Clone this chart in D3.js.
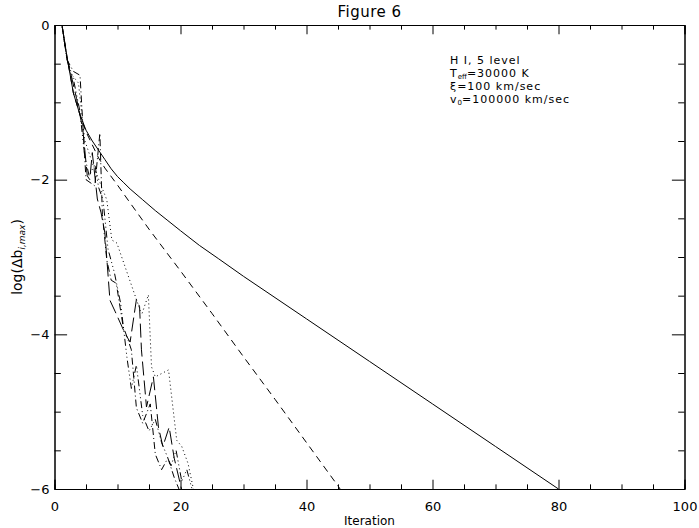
<!DOCTYPE html>
<html>
<head>
<meta charset="utf-8">
<script src="https://cdn.jsdelivr.net/npm/d3@7"></script>
<style>
  html, body { margin: 0; padding: 0; background: #fff; }
  svg { display: block; }
  text { font-family: "DejaVu Sans", "Liberation Sans", Arial, sans-serif; fill: #000; }
</style>
</head>
<body>
<svg id="chart" width="699" height="528"></svg>
<script>
// Convergence of the maximum relative change of level populations per iteration
const xMajorTicks = [0, 20, 40, 60, 80, 100];
const yMajorTicks = [0, -2, -4, -6];

// solid: plain lambda iteration
const solidIter = [1, 2, 3, 4, 5, 6, 7, 8, 9, 10, 11, 12, 14, 16, 18, 20, 23, 26, 30, 40, 50, 60, 70, 80];
const solidVal  = [0.1, -0.42, -0.88, -1.15, -1.36, -1.50, -1.62, -1.74, -1.86, -1.96, -2.04, -2.12, -2.26, -2.40, -2.53, -2.66, -2.85, -3.02, -3.25, -3.80, -4.35, -4.90, -5.45, -6.0];

// dashed
const dashedIter = [1, 2, 3, 4, 5, 6, 7, 8, 10, 12, 15, 20, 25, 30, 35, 40, 45, 46];
const dashedVal  = [0.1, -0.42, -0.88, -1.15, -1.38, -1.55, -1.72, -1.85, -2.07, -2.30, -2.64, -3.18, -3.73, -4.29, -4.84, -5.40, -5.96, -6.08];

// dotted
const dottedIter = [1, 2, 2.5, 3.8, 4.8, 6.2, 8.3, 9.1, 9.9, 13.6, 13.9, 14.9, 15.4, 16, 18.1, 19.4, 20.2, 21.2, 22.1];
const dottedVal  = [0.1, -0.45, -0.62, -0.75, -1.49, -1.83, -2.26, -2.78, -2.82, -3.69, -3.73, -3.49, -4.42, -4.55, -4.46, -5.37, -5.45, -5.67, -6.02];

// dash-dot
const dashDotIter = [1, 2, 3, 4.05, 5.0, 6.4, 7.2, 7.6, 8.3, 9.0, 9.8, 10.9, 11.5, 12.2, 13.0, 14.0, 15.2, 16.0, 17.0, 18.0, 19.0, 20.0];
const dashDotVal  = [0.1, -0.45, -0.6, -0.65, -2.0, -2.08, -1.40, -2.45, -3.04, -3.3, -3.34, -3.9, -4.03, -4.2, -4.95, -5.15, -4.9, -5.55, -5.75, -5.6, -5.85, -6.05];

// dash-dot-dot-dot
const dash3DotIter = [1, 2, 3, 4.0, 4.8, 5.5, 6.4, 7.0, 7.7, 8.5, 9.5, 10.5, 11.5, 12.2, 13.0, 14.0, 15.0, 16.0, 17.0, 18.5, 19.3, 20.2, 21.0, 22.0];
const dash3DotVal  = [0.1, -0.45, -0.7, -1.1, -1.7, -1.95, -1.8, -2.1, -2.26, -2.9, -3.2, -3.6, -4.3, -4.7, -4.4, -5.05, -5.25, -5.1, -5.4, -5.7, -5.5, -5.9, -5.75, -6.05];

// long dashes
const longDashIter = [1, 2, 2.5, 3.5, 4.5, 5.2, 5.6, 6.0, 6.8, 7.4, 8.0, 8.8, 9.6, 11.2, 12.0, 13.0, 13.5, 13.8, 14.6, 15.7, 16.5, 17.2, 18.2, 19.0, 20.3];
const longDashVal  = [0.1, -0.45, -0.6, -0.95, -1.35, -1.95, -2.0, -1.65, -2.25, -2.43, -2.69, -3.56, -3.7, -3.99, -4.1, -3.55, -3.64, -4.2, -4.94, -4.55, -5.2, -5.45, -5.2, -5.6, -6.05];

const series = [
  { iter: solidIter,    val: solidVal,    dash: null },
  { iter: dashedIter,   val: dashedVal,   dash: "7,5" },
  { iter: dottedIter,   val: dottedVal,   dash: "1,3" },
  { iter: dashDotIter,  val: dashDotVal,  dash: "7,3,1,3" },
  { iter: dash3DotIter, val: dash3DotVal, dash: "7,3,1,3,1,3,1,3" },
  { iter: longDashIter, val: longDashVal, dash: "14,5" }
];

const svg = d3.select("#chart");
const plotL = 54.5, plotR = 684.5, plotT = 25, plotB = 489;
const x = d3.scaleLinear().domain([0, 100]).range([plotL, plotR]);
const y = d3.scaleLinear().domain([-6, 0]).range([plotB, plotT]);

const xMinor = d3.range(0, 101, 5).filter(v => v % 20 !== 0);
const yMinor = d3.range(-6, 0.01, 0.5).filter(v => v % 2 !== 0);
const xLen = 0.02 * (plotB - plotT), yLen = 0.02 * (plotR - plotL);

function styleAxis(g) {
  g.select(".domain").attr("stroke", "#000").attr("stroke-width", 1);
  g.selectAll(".tick line").attr("stroke", "#000").attr("stroke-width", 1);
  g.selectAll("text").attr("font-size", 13)
    .style("font-family", "'DejaVu Sans', 'Liberation Sans', Arial, sans-serif");
}

// bottom axis with labels
svg.append("g").attr("transform", `translate(0,${plotB})`)
  .call(d3.axisBottom(x).tickValues(xMajorTicks).tickSize(-xLen).tickPadding(13).tickFormat(d3.format("d")))
  .call(styleAxis);
svg.append("g").attr("transform", `translate(0,${plotB})`)
  .call(d3.axisBottom(x).tickValues(xMinor).tickSize(-xLen / 2).tickFormat(""))
  .call(styleAxis);
// top axis
svg.append("g").attr("transform", `translate(0,${plotT})`)
  .call(d3.axisTop(x).tickValues(xMajorTicks).tickSize(-xLen).tickFormat(""))
  .call(styleAxis);
svg.append("g").attr("transform", `translate(0,${plotT})`)
  .call(d3.axisTop(x).tickValues(xMinor).tickSize(-xLen / 2).tickFormat(""))
  .call(styleAxis);
// left axis with labels
svg.append("g").attr("transform", `translate(${plotL},0)`)
  .call(d3.axisLeft(y).tickValues(yMajorTicks).tickSize(-yLen).tickPadding(5).tickFormat(d3.format("d")))
  .call(styleAxis);
svg.append("g").attr("transform", `translate(${plotL},0)`)
  .call(d3.axisLeft(y).tickValues(yMinor).tickSize(-yLen / 2).tickFormat(""))
  .call(styleAxis);
// right axis
svg.append("g").attr("transform", `translate(${plotR},0)`)
  .call(d3.axisRight(y).tickValues(yMajorTicks).tickSize(-yLen).tickFormat(""))
  .call(styleAxis);
svg.append("g").attr("transform", `translate(${plotR},0)`)
  .call(d3.axisRight(y).tickValues(yMinor).tickSize(-yLen / 2).tickFormat(""))
  .call(styleAxis);

// curves, clipped to the plot box
svg.append("clipPath").attr("id", "plotclip")
  .append("rect").attr("x", plotL).attr("y", plotT).attr("width", plotR - plotL).attr("height", plotB - plotT);

const line = d3.line().curve(d3.curveLinear).x(d => x(d[0])).y(d => y(d[1]));
svg.append("g").attr("clip-path", "url(#plotclip)")
  .selectAll("path").data(series).join("path")
  .attr("d", s => line(s.iter.map((it, i) => [it, s.val[i]])))
  .attr("fill", "none")
  .attr("stroke", "#000")
  .attr("stroke-width", 1)
  .attr("stroke-dasharray", s => s.dash);

// title and axis titles
svg.append("text").attr("x", (plotL + plotR) / 2).attr("y", 17)
  .attr("text-anchor", "middle").attr("font-size", 15).attr("letter-spacing", 0.5).text("Figure 6");
svg.append("text").attr("x", (plotL + plotR) / 2).attr("y", 525)
  .attr("text-anchor", "middle").attr("font-size", 12).text("Iteration");

const yl = svg.append("text")
  .attr("transform", `translate(22,${(plotT + plotB) / 2}) rotate(-90)`)
  .attr("text-anchor", "middle").attr("font-size", 14);
yl.append("tspan").text("log(Δb");
yl.append("tspan").attr("font-size", 9).attr("font-style", "italic").attr("dy", 3).text("i,max");
yl.append("tspan").attr("dy", -3).text(")");

// run parameters
const info = svg.append("g").attr("transform", "translate(450,0)")
  .attr("font-size", 11).attr("letter-spacing", 1);
info.append("text").attr("y", 64).text("H I, 5 level");
const t2 = info.append("text").attr("y", 77);
t2.append("tspan").text("T");
t2.append("tspan").attr("font-size", 7).attr("dy", 1.5).attr("letter-spacing", 0).text("eff");
t2.append("tspan").attr("dy", -1.5).text("=30000 K");
info.append("text").attr("y", 90).text("ξ=100 km/sec");
const t4 = info.append("text").attr("y", 103);
t4.append("tspan").text("v");
t4.append("tspan").attr("font-size", 7).attr("dy", 1.5).attr("letter-spacing", 0).text("0");
t4.append("tspan").attr("dy", -1.5).text("=100000 km/sec");
</script>
</body>
</html>
